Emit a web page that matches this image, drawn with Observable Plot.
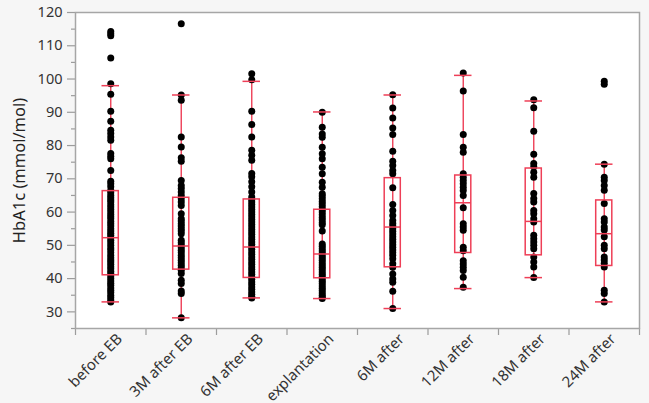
<!DOCTYPE html>
<html>
<head>
<meta charset="utf-8">
<script src="https://cdn.jsdelivr.net/npm/d3@7"></script>
<script src="https://cdn.jsdelivr.net/npm/@observablehq/plot@0.6"></script>
<style>
  html, body { margin: 0; padding: 0; background: #f6f6f6; }
  #chart { width: 649px; height: 403px; }
</style>
</head>
<body>
<div id="chart"></div>
<script>
const categories = ["before EB", "3M after EB", "6M after EB", "explantation", "6M after", "12M after", "18M after", "24M after"];

const beforeEB = [114.3, 113.6, 113.0, 106.3, 98.6, 95.4, 90.3, 87.3, 84.6, 83.6, 82.6, 81.6, 77.6, 76.8, 76.0, 72.5, 69.3, 68.5, 67.6, 66.5, 65.8, 65.0, 64.3, 63.6, 63.0, 62.2, 61.5, 60.8, 60.0, 59.3, 58.6, 58.0, 57.2, 56.5, 55.8, 55.0, 54.3, 53.6, 53.0, 52.3, 51.5, 50.8, 50.0, 49.2, 48.6, 47.8, 47.0, 46.3, 45.6, 45.0, 44.3, 43.6, 43.0, 42.2, 41.5, 40.8, 40.0, 39.3, 38.6, 38.0, 37.2, 36.5, 35.8, 35.0, 34.3, 33.6, 33.0];
const after3MEB = [116.6, 95.2, 93.6, 82.6, 79.6, 76.3, 75.3, 69.5, 68.0, 67.1, 66.0, 65.0, 64.0, 63.0, 62.0, 59.5, 58.0, 57.3, 56.5, 55.8, 55.0, 54.3, 53.5, 51.5, 50.8, 50.0, 49.3, 48.5, 47.8, 47.0, 46.3, 45.5, 44.8, 44.0, 43.3, 42.5, 41.5, 39.5, 38.5, 36.3, 35.5, 28.2];
const after6MEB = [101.6, 99.8, 90.3, 86.3, 82.6, 78.6, 77.1, 75.6, 71.6, 70.6, 69.1, 67.6, 66.0, 64.5, 63.8, 63.0, 62.3, 61.5, 60.8, 60.0, 59.3, 58.5, 57.8, 57.0, 56.3, 55.5, 54.8, 54.0, 53.3, 52.5, 51.8, 51.0, 50.3, 49.5, 48.8, 48.0, 47.3, 46.5, 45.8, 45.0, 44.3, 43.5, 42.8, 42.0, 41.3, 40.5, 39.8, 39.0, 38.3, 37.5, 36.8, 36.0, 35.3, 34.6, 34.2];
const explantation = [90.0, 85.5, 83.5, 82.5, 79.5, 77.5, 76.0, 73.5, 71.5, 69.0, 67.5, 65.5, 64.8, 64.0, 63.2, 62.4, 61.6, 60.8, 60.0, 59.2, 58.4, 57.6, 56.8, 56.2, 54.3, 50.4, 49.7, 49.0, 48.3, 47.6, 46.9, 46.2, 45.5, 44.8, 44.1, 43.4, 42.7, 42.0, 41.3, 40.6, 39.9, 39.2, 38.5, 37.8, 37.1, 36.4, 35.7, 35.0, 34.4, 34.0];
const after6M = [95.3, 91.3, 88.3, 85.3, 83.3, 78.3, 75.3, 74.0, 72.5, 71.5, 67.3, 62.3, 60.5, 59.0, 57.5, 56.6, 55.8, 55.0, 54.2, 53.4, 52.6, 51.8, 51.0, 50.2, 49.4, 48.6, 47.8, 47.0, 46.0, 44.5, 43.4, 41.4, 39.9, 38.9, 36.2, 31.0];
const after12M = [101.8, 96.4, 83.3, 79.5, 78.0, 71.5, 70.5, 69.5, 68.5, 67.5, 66.5, 65.0, 61.3, 56.5, 55.5, 54.5, 49.4, 48.4, 45.4, 44.4, 43.4, 42.4, 40.4, 37.4];
const after18M = [93.8, 91.4, 84.3, 77.4, 74.6, 73.6, 72.0, 70.5, 65.6, 64.1, 63.0, 60.5, 59.5, 58.0, 57.0, 53.0, 52.0, 51.0, 50.0, 49.0, 46.5, 45.0, 43.5, 40.3];
const after24M = [99.3, 98.4, 74.4, 70.5, 69.5, 68.0, 66.6, 62.6, 58.0, 57.0, 55.5, 54.6, 52.6, 50.0, 49.0, 46.5, 45.6, 44.6, 43.5, 36.5, 35.5, 33.0];

const whiskerLow  = [33.0, 28.2, 34.2, 34.0, 31.0, 37.0, 40.3, 33.0];
const quartile1   = [41.0, 42.7, 40.2, 40.1, 43.4, 47.7, 47.0, 43.8];
const medians     = [52.3, 49.8, 49.5, 47.4, 55.5, 62.8, 57.2, 53.5];
const quartile3   = [66.3, 64.3, 63.8, 60.7, 70.2, 71.0, 73.1, 63.5];
const whiskerHigh = [98.0, 95.2, 99.3, 90.1, 95.2, 101.1, 93.4, 74.4];

const yMajorTicks = [30, 40, 50, 60, 70, 80, 90, 100, 110, 120];
const yMinorTicks = [25, 35, 45, 55, 65, 75, 85, 95, 105, 115];

const groups = [beforeEB, after3MEB, after6MEB, explantation, after6M, after12M, after18M, after24M];
const points = groups.flatMap((vals, i) => vals.map(v => ({i, v})));
const stats = categories.map((c, i) => ({
  i, lo: whiskerLow[i], q1: quartile1[i], med: medians[i], q3: quartile3[i], hi: whiskerHigh[i]
}));
const boundaries = d3.range(0, categories.length + 1);
const centers = categories.map((c, i) => i + 0.5);

const red = "#ee3f57";
const axisGray = "#9c9c9c";
const boxInset = 27.2;

const chart = Plot.plot({
  width: 649,
  height: 403,
  marginLeft: 75,
  marginRight: 10,
  marginTop: 12,
  marginBottom: 75,
  style: {fontFamily: "'Noto Sans', 'Open Sans', sans-serif", fontSize: "14px", background: "transparent", color: "#333"},
  x: {domain: [0, categories.length]},
  y: {domain: [25, 120]},
  marks: [
    Plot.frame({fill: "white", stroke: null}),
    Plot.axisY(yMajorTicks, {tickSize: 8, stroke: axisGray, strokeWidth: 1.2, text: null, label: null}),
    Plot.axisY(yMinorTicks, {tickSize: 4, stroke: axisGray, strokeWidth: 1.2, text: null, label: null}),
    Plot.axisY(yMajorTicks, {tickSize: 0, tickPadding: 13, fill: "#333", fontSize: 14.5, label: null}),
    Plot.axisY({ticks: [], tickSize: 0, fill: "#222", fontSize: 16.5,
      label: "HbA1c (mmol/mol)", labelAnchor: "center", labelArrow: "none", labelOffset: 62}),
    Plot.axisX(boundaries, {tickSize: 7, stroke: axisGray, strokeWidth: 1.2, text: null, label: null}),
    Plot.axisX(centers, {tickSize: 0, tickPadding: 8, tickRotate: -45, fill: "#333", fontSize: 15, dx: 9,
      tickFormat: d => categories[Math.round(d - 0.5)], label: null}),
    Plot.ruleX(stats, {x: d => d.i + 0.5, y1: "lo", y2: "hi", stroke: red, strokeWidth: 1.4}),
    Plot.dot(points, {x: d => d.i + 0.5, y: "v", r: 3.5, fill: "black", stroke: null}),
    Plot.rect(stats, {x1: "i", x2: d => d.i + 1, y1: "q1", y2: "q3", insetLeft: boxInset, insetRight: boxInset,
      fill: "none", stroke: red, strokeWidth: 1.5}),
    Plot.ruleY(stats, {x1: "i", x2: d => d.i + 1, y: "med", insetLeft: boxInset, insetRight: boxInset, stroke: red, strokeWidth: 1.5}),
    Plot.ruleY(stats, {x1: "i", x2: d => d.i + 1, y: "lo", insetLeft: 26.5, insetRight: 26.5, stroke: red, strokeWidth: 1.5}),
    Plot.ruleY(stats, {x1: "i", x2: d => d.i + 1, y: "hi", insetLeft: 26.5, insetRight: 26.5, stroke: red, strokeWidth: 1.5}),
    Plot.frame({stroke: "#a6a6a6", strokeWidth: 1.5, fill: null})
  ]
});
document.getElementById("chart").appendChild(chart);
</script>
</body>
</html>
